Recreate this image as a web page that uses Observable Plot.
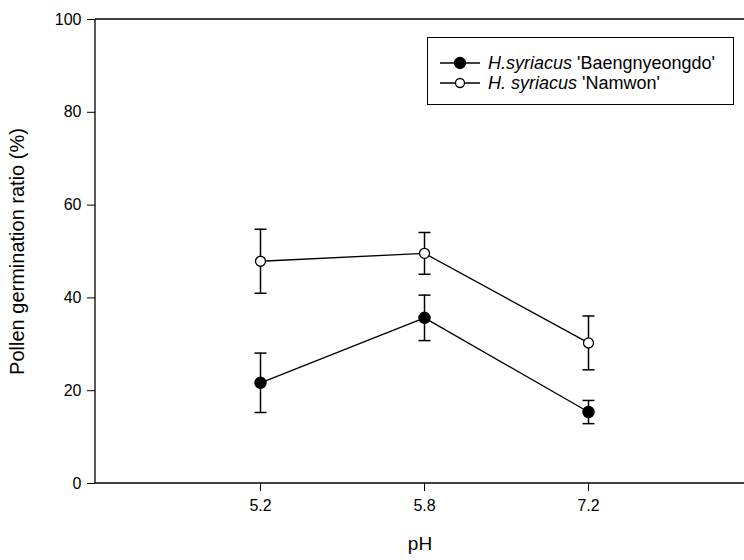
<!DOCTYPE html>
<html>
<head>
<meta charset="utf-8">
<script src="https://cdn.jsdelivr.net/npm/d3@7"></script>
<script src="https://cdn.jsdelivr.net/npm/@observablehq/plot@0.6"></script>
<style>
  html, body { margin: 0; padding: 0; background: #fff; overflow: hidden; }
  #wrap { position: relative; width: 744px; height: 560px; overflow: hidden; font-family: "Liberation Sans", Arial, sans-serif; }
  #legend { position: absolute; left: 427px; top: 37px; width: 307px; height: 68px; border: 1px solid #000; background: #fff; box-sizing: border-box; }
  .row { position: absolute; left: 0; height: 20px; display: flex; align-items: center; font-size: 18px; white-space: nowrap; }
  .row svg { margin-left: 12px; margin-right: 8px; }
</style>
</head>
<body>
<div id="wrap"><div id="legend"></div></div>
<script>
const pH = ["5.2", "5.8", "7.2"];
const baengnyeongdo = [21.7, 35.7, 15.4];
const baengnyeongdoErr = [6.4, 4.9, 2.5];
const namwon = [47.9, 49.6, 30.3];
const namwonErr = [6.9, 4.5, 5.8];
const yTicks = [0, 20, 40, 60, 80, 100];
const seriesNames = ["H.syriacus|'Baengnyeongdo'", "H. syriacus|'Namwon'"];

const rows = [];
pH.forEach((p, i) => {
  rows.push({pH: p, v: baengnyeongdo[i], e: baengnyeongdoErr[i], s: "B"});
  rows.push({pH: p, v: namwon[i], e: namwonErr[i], s: "N"});
});
const B = rows.filter(d => d.s === "B");
const N = rows.filter(d => d.s === "N");

const capSymbol = {
  draw(context, size) {
    const r = Math.sqrt(size / Math.PI);
    context.moveTo(-r, 0);
    context.lineTo(r, 0);
  }
};

// axis frame: top, left and bottom lines; open on the right
function axisFrame(index, scales, values, dims) {
  const x0 = dims.marginLeft, x1 = dims.width;
  const yTop = scales.y(100), yBot = scales.y(0);
  const g = d3.create("svg:g").attr("fill", "none").attr("stroke", "#000").attr("stroke-width", 1.3);
  g.append("line").attr("x1", x0).attr("x2", x1).attr("y1", yTop).attr("y2", yTop);
  g.append("line").attr("x1", x0).attr("x2", x1).attr("y1", yBot).attr("y2", yBot);
  g.append("line").attr("x1", x0).attr("x2", x0).attr("y1", yTop).attr("y2", yBot);
  return g.node();
}

const chart = Plot.plot({
  width: 744,
  height: 560,
  marginTop: 19,
  marginBottom: 77,
  marginLeft: 95,
  marginRight: 0,
  style: {fontFamily: "Liberation Sans, Arial, sans-serif", fontSize: "16px", color: "#000", background: "#fff"},
  x: {type: "point", domain: pH, padding: 0.9726, align: 0.514, label: null},
  y: {domain: [0, 100], label: null},
  marks: [
    axisFrame,
    Plot.axisY({ticks: yTicks, tickSize: 8, tickPadding: 6, fontSize: 16, label: null}),
    Plot.axisX({tickSize: 8, tickPadding: 8, fontSize: 16, label: null}),
    Plot.text(["Pollen germination ratio (%)"], {frameAnchor: "left", textAnchor: "middle", dx: -78, rotate: -90, fontSize: 20}),
    Plot.text(["pH"], {frameAnchor: "bottom", dy: 66, fontSize: 19}),
    Plot.line(B, {x: "pH", y: "v", stroke: "#000", strokeWidth: 1.3}),
    Plot.line(N, {x: "pH", y: "v", stroke: "#000", strokeWidth: 1.3}),
    Plot.ruleX(rows, {x: "pH", y1: d => d.v - d.e, y2: d => d.v + d.e, stroke: "#000", strokeWidth: 1.5}),
    Plot.dot(rows, {x: "pH", y: d => d.v - d.e, r: 6, symbol: capSymbol, fill: "none", stroke: "#000", strokeWidth: 1.5}),
    Plot.dot(rows, {x: "pH", y: d => d.v + d.e, r: 6, symbol: capSymbol, fill: "none", stroke: "#000", strokeWidth: 1.5}),
    Plot.dot(B, {x: "pH", y: "v", r: 5.5, fill: "#000", stroke: "#000"}),
    Plot.dot(N, {x: "pH", y: "v", r: 5, fill: "#fff", stroke: "#000", strokeWidth: 1.3})
  ]
});
const wrap = document.getElementById("wrap");
wrap.insertBefore(chart, wrap.firstChild);

const legend = document.getElementById("legend");
seriesNames.forEach((name, i) => {
  const [sp, cv] = name.split("|");
  const row = document.createElement("div");
  row.className = "row";
  row.style.top = (15 + i * 20) + "px";
  const filled = i === 0;
  row.innerHTML = `<svg width="40" height="14"><line x1="0" y1="7" x2="40" y2="7" stroke="#000" stroke-width="1.3"/><circle cx="20" cy="7" r="${filled ? 5.5 : 4.5}" fill="${filled ? '#000' : '#fff'}" stroke="#000" stroke-width="1.3"/></svg><span><i>${sp}</i> ${cv}</span>`;
  legend.appendChild(row);
});
</script>
</body>
</html>
